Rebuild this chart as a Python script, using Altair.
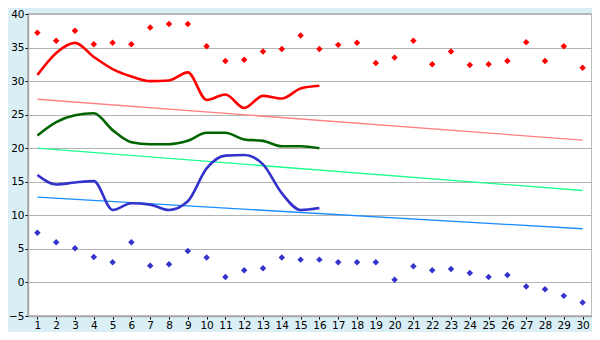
import altair as alt
import pandas as pd

days = list(range(1, 31))
max_pts = [37.2, 36.0, 37.5, 35.5, 35.7, 35.5, 38.0, 38.5, 38.5, 35.2,
           33.0, 33.2, 34.4, 34.8, 36.8, 34.8, 35.4, 35.7, 32.7, 33.5,
           36.0, 32.5, 34.4, 32.4, 32.5, 33.0, 35.8, 33.0, 35.2, 32.0]
min_pts = [7.4, 6.0, 5.1, 3.8, 3.0, 6.0, 2.5, 2.7, 4.7, 3.7,
           0.8, 1.8, 2.1, 3.7, 3.4, 3.4, 3.0, 3.0, 3.0, 0.4,
           2.4, 1.8, 2.0, 1.4, 0.8, 1.1, -0.6, -1.0, -2.0, -3.0]

line_days = list(range(1, 17))
red_line = [30.9, 34.2, 35.7, 33.6, 31.8, 30.7, 30.0, 30.1, 31.3, 27.2,
            28.0, 26.0, 27.8, 27.4, 28.9, 29.3]
green_line = [21.9, 23.9, 24.9, 25.2, 22.7, 20.9, 20.6, 20.6, 21.1, 22.3,
              22.3, 21.3, 21.1, 20.3, 20.3, 20.0]
blue_line = [16.0, 14.6, 14.9, 15.1, 10.8, 11.8, 11.6, 10.8, 12.1, 17.0,
             18.9, 19.0, 17.6, 13.3, 10.8, 11.1]

trend_days = [1, 30]
trend_red = [27.3, 21.2]
trend_green = [20.0, 13.7]
trend_blue = [12.7, 8.0]

y_ticks = list(range(-5, 41, 5))

pts_df = pd.DataFrame({"day": days, "max": max_pts, "min": min_pts})
line_df = pd.DataFrame({"day": line_days, "red": red_line, "green": green_line, "blue": blue_line})
trend_df = pd.DataFrame({"day": trend_days, "red": trend_red, "green": trend_green, "blue": trend_blue})

x_enc = alt.X("day:Q",
              scale=alt.Scale(domain=[0.5, 30.5], nice=False, zero=False),
              axis=alt.Axis(values=days, grid=False, title=None, format="d",
                            labelFlush=False, labelOverlap=False))


def yenc(field):
    return alt.Y(f"{field}:Q",
                 scale=alt.Scale(domain=[-5, 40], nice=False, zero=False),
                 axis=alt.Axis(values=y_ticks, grid=True, title=None, format="d",
                               labelFlush=False, labelOverlap=False))


layers = []
for field, color in [("red", "#ff8080"), ("green", "#1aff8c"), ("blue", "#1a8cff")]:
    layers.append(alt.Chart(trend_df).mark_line(color=color, strokeWidth=1.3).encode(x=x_enc, y=yenc(field)))

for field, color in [("red", "#ff0000"), ("green", "#006400"), ("blue", "#3333cc")]:
    layers.append(alt.Chart(line_df).mark_line(color=color, strokeWidth=2.6,
                                               interpolate="monotone").encode(x=x_enc, y=yenc(field)))

layers.append(alt.Chart(pts_df).mark_point(shape="diamond", filled=True, size=42,
                                           color="#ff0000", opacity=1).encode(x=x_enc, y=yenc("max")))
layers.append(alt.Chart(pts_df).mark_point(shape="diamond", filled=True, size=42,
                                           color="#3333cc", opacity=1).encode(x=x_enc, y=yenc("min")))

chart = alt.layer(*layers).properties(
    width=564, height=302,
    autosize=alt.AutoSizeParams(type="none"),
    padding={"left": 20, "top": 6, "right": 0, "bottom": 16},
    background="#daeef5",
).configure_view(
    fill="#ffffff", stroke="#a8a8a8", strokeWidth=1.5
).configure_axis(
    labelFont="DejaVu Sans", labelFontSize=10.5, labelColor="#000000",
    domainColor="#a8a8a8", domainWidth=1.5, tickColor="#000000", tickSize=3,
    gridColor="#b4b4b4", gridWidth=1.2, labelPadding=1
)

chart.save("out.html", embed_options={"renderer": "svg", "actions": False})
